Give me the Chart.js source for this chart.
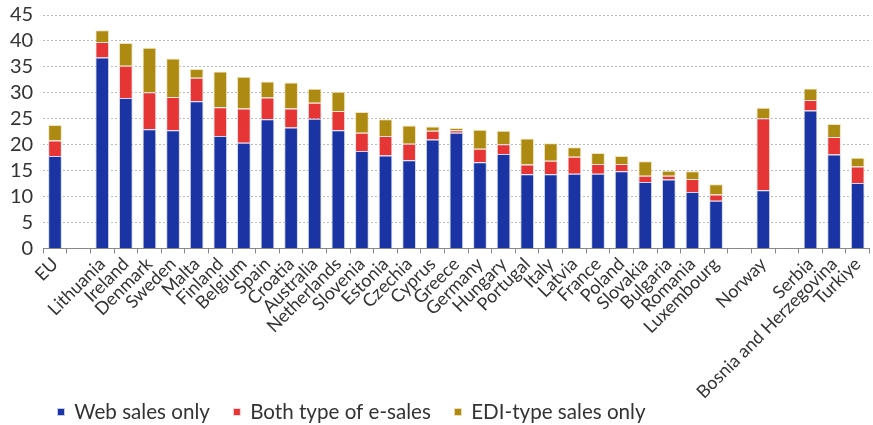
<!DOCTYPE html>
<html>
<head>
<meta charset="utf-8">
<script src="https://cdn.jsdelivr.net/npm/chart.js@4.4.0/dist/chart.umd.min.js"></script>
<style>
html,body{margin:0;padding:0;background:#fff;}
canvas{display:block;}
</style>
</head>
<body>
<canvas id="c" width="873" height="425"></canvas>
<script>
const categories = ["EU","","Lithuania","Ireland","Denmark","Sweden","Malta","Finland","Belgium","Spain","Croatia","Australia","Netherlands","Slovenia","Estonia","Czechia","Cyprus","Greece","Germany","Hungary","Portugal","Italy","Latvia","France","Poland","Slovakia","Bulgaria","Romania","Luxembourg","","Norway","","Serbia","Bosnia and Herzegovina","Turkiye"];
const webSalesOnly = [17.8,null,36.8,29.0,23.0,22.8,28.4,21.7,20.4,24.9,23.3,25.0,22.8,18.8,17.9,17.0,21.0,22.3,16.6,18.2,14.3,14.3,14.4,14.4,14.9,12.8,13.3,10.9,9.2,null,11.2,null,26.6,18.1,12.6];
const bothTypes = [3.0,null,3.0,6.2,7.1,6.4,4.5,5.5,6.6,4.2,3.7,3.1,3.7,3.5,3.8,3.2,1.7,0.5,2.6,1.9,1.9,2.6,3.3,1.9,1.4,1.2,0.7,2.5,1.2,null,13.9,null,2.0,3.4,3.2];
const ediOnly = [3.0,null,2.25,4.4,8.6,7.4,1.7,6.9,6.1,3.1,5.0,2.7,3.7,4.0,3.2,3.5,0.8,0.4,3.7,2.6,5.0,3.4,1.8,2.1,1.5,2.8,1.0,1.5,2.0,null,2.0,null,2.25,2.5,1.7];
const yTicks = [0,5,10,15,20,25,30,35,40,45];

const FONT = 'Lato, "Open Sans", sans-serif';
const LEGEND_H = 22;       // space reserved for the legend row
const LEGEND_DX = 34;      // horizontal offset of the legend row
const LEGEND_TEXT_Y = 412; // vertical centre of the legend text
const PLOT_TOP = 15;       // top padding of the value axis

const legendPlace = {
  id:'legendPlace',
  beforeLayout(chart){
    const lg = chart.legend;
    if (lg && !lg._wrappedFit){
      const f = lg.fit;
      lg.fit = function(){ f.call(this); this.height = LEGEND_H; };
      lg._wrappedFit = true;
    }
  },
  afterLayout(chart){
    const lg = chart.legend;
    if (!lg) return;
    const pad = lg.options.labels.padding;
    const itemH = lg.options.labels.font.size;
    lg.left += LEGEND_DX;
    lg.top = LEGEND_TEXT_Y - pad - itemH/2;
  }
};

new Chart(document.getElementById('c'), {
  type: 'bar',
  data: {
    labels: categories,
    datasets: [
      {label:'Web sales only', data: webSalesOnly, backgroundColor:'#1a35a3', borderColor:'rgba(200,210,240,0.9)', borderWidth:1, barPercentage:0.58, categoryPercentage:1},
      {label:'Both type of e-sales', data: bothTypes, backgroundColor:'#e53535', borderColor:'rgba(255,220,220,0.9)', borderWidth:1, barPercentage:0.58, categoryPercentage:1},
      {label:'EDI-type sales only', data: ediOnly, backgroundColor:'#ad8b12', borderColor:'rgba(240,225,180,0.9)', borderWidth:1, barPercentage:0.58, categoryPercentage:1}
    ]
  },
  plugins:[legendPlace],
  options: {
    responsive:false,
    animation:false,
    devicePixelRatio:1,
    layout:{padding:{top:0,right:1,left:0,bottom:0}},
    plugins:{
      legend:{
        position:'bottom',
        align:'start',
        labels:{
          font:{family:FONT,size:20.6},
          color:'#333',
          usePointStyle:true,
          pointStyle:'rect',
          boxWidth:6,
          boxHeight:7,
          padding:24
        }
      },
      tooltip:{enabled:false}
    },
    scales:{
      x:{
        stacked:true,
        grid:{display:true, drawOnChartArea:false, drawTicks:true, tickLength:5, color:'#888', offset:true},
        border:{display:true,color:'#888'},
        ticks:{font:{family:FONT,size:18},color:'#333',minRotation:45,maxRotation:45,autoSkip:false,padding:0}
      },
      y:{
        stacked:true,
        min:0,max:45,
        afterBuildTicks:(ax)=>{ax.ticks = yTicks.map(v=>({value:v}));},
        afterFit:(ax)=>{ax.paddingTop = PLOT_TOP;},
        grid:{color:'#bbb', drawTicks:false, lineWidth:1},
        border:{display:false, dash:[2,2]},
        ticks:{font:{family:FONT,size:20},color:'#333',padding:10,autoSkip:false}
      }
    }
  }
});
</script>
</body>
</html>
